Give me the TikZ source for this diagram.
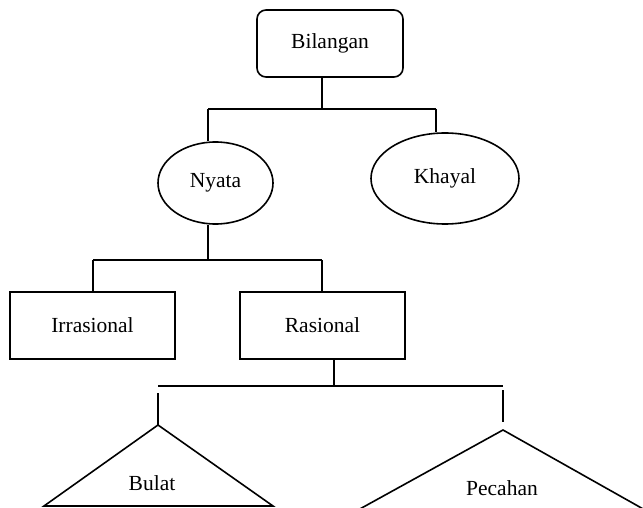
\documentclass[tikz,border=0pt]{standalone}
\usepackage{fontspec}
\setmainfont{Liberation Serif}
\usetikzlibrary{shapes.geometric}
\begin{document}
\begin{tikzpicture}[x=1pt,y=-1pt,line width=1.6pt,
  lbl/.style={font=\fontsize{21.5}{25}\selectfont,inner sep=0pt},
  boxnode/.style={draw,rectangle,minimum width=165pt,minimum height=67pt,lbl},
  ovalnode/.style={draw,ellipse,inner sep=0pt,lbl}]
\useasboundingbox (0,0) rectangle (643,508);
\clip (0,0) rectangle (643,508);
\node[draw,rectangle,rounded corners=9pt,minimum width=146pt,minimum height=67pt,lbl] (bil) at (330,43.5) {Bilangan};
\node[ovalnode,minimum width=115pt,minimum height=82pt] (nyata) at (215.5,183) {Nyata};
\node[ovalnode,minimum width=148pt,minimum height=91pt] (khayal) at (445,178.5) {Khayal};
\node[boxnode] (irr) at (92.5,325.5) {Irrasional};
\node[boxnode] (ras) at (322.5,325.5) {Rasional};
% triangles
\coordinate (ba) at (158,425);
\coordinate (bl) at (44,506);
\coordinate (br) at (273,506);
\coordinate (pa) at (503,430);
\coordinate (pl) at (358,510);
\coordinate (pr) at (645,510);
\draw[line join=miter] (bl) -- (ba) -- (br) -- cycle;
\draw[line join=miter] (pl) -- (pa) -- (pr);
\node[lbl] (bulat) at (152,483) {Bulat};
\node[lbl] (pecahan) at (502,488) {Pecahan};
% connectors level 1
\coordinate (j1) at (322,109);
\coordinate (h1l) at (208,109);
\coordinate (h1r) at (436,109);
\draw (bil.south -| j1) -- (j1);
\draw (h1l) -- (h1r);
\draw (h1l) -- (h1l |- nyata.north);
\draw (h1r) -- (h1r |- khayal.north);
% level 2
\coordinate (j2) at (208,260);
\coordinate (h2l) at (93,260);
\coordinate (h2r) at (322,260);
\draw (j2 |- nyata.south) -- (j2);
\draw (h2l) -- (h2r);
\draw (h2l) -- (h2l |- irr.north);
\draw (h2r) -- (h2r |- ras.north);
% level 3
\coordinate (j3) at (334,386);
\coordinate (h3l) at (158,386);
\coordinate (h3r) at (503,386);
\coordinate (d3l) at (158,393);
\coordinate (d3r) at (503,390);
\coordinate (e3r) at (503,422);
\draw (j3 |- ras.south) -- (j3);
\draw (h3l) -- (h3r);
\draw (d3l) -- (ba);
\draw (d3r) -- (e3r);
\end{tikzpicture}
\end{document}
